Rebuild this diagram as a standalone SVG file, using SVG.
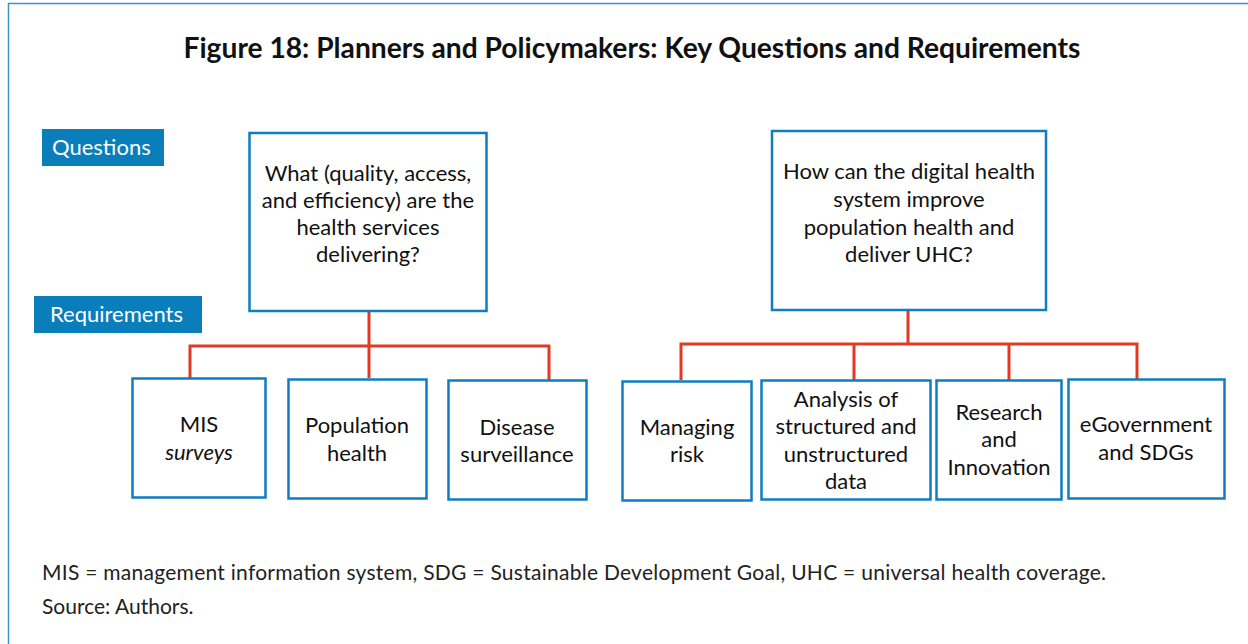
<svg xmlns="http://www.w3.org/2000/svg" width="1248" height="644" viewBox="0 0 1248 644">
<style>
.frame{fill:none;stroke:#3b93c9;stroke-width:1.5}
.box{fill:#ffffff;stroke:#0f7dc0;stroke-width:2.5}
.lbl{fill:#0a7dbb}
.lt{font-family:Lato,"Open Sans",sans-serif;font-size:22px;fill:#ffffff}
.t{font-family:Lato,"Open Sans",sans-serif;font-size:22px;fill:#111111;text-anchor:middle}
.title{font-family:Lato,"Open Sans",sans-serif;font-size:28.2px;font-weight:bold;fill:#111111;text-anchor:middle}
.note{font-family:Lato,"Open Sans",sans-serif;font-size:21px;fill:#222222}
.conn{fill:none;stroke:#e03a22;stroke-width:3}
</style>
<rect width="1248" height="644" fill="#ffffff"/>
<path class="frame" d="M8.5,644 V3.5 H1248"/>
<text class="title" x="632" y="58">Figure 18: Planners and Policymakers: Key Questions and Requirements</text>

<g id="label-questions">
<rect class="lbl" x="42" y="129" width="122" height="37"/>
<text class="lt" x="52" y="155">Questions</text>
</g>
<g id="label-requirements">
<rect class="lbl" x="34" y="296" width="168" height="37"/>
<text class="lt" x="50" y="322">Requirements</text>
</g>

<g id="connectors">
<path class="conn" d="M369,311 V378 M190,378 V346 H549 V380"/>
<path class="conn" d="M908,310 V344 M681,380 V344 H1137 V379 M854,344 V380 M1009,344 V380"/>
</g>

<g id="q1">
<rect class="box" x="249.5" y="133" width="237" height="178"/>
<text class="t" x="368" y="181">What (quality, access,</text>
<text class="t" x="368" y="208">and efficiency) are the</text>
<text class="t" x="368" y="235">health services</text>
<text class="t" x="368" y="262">delivering?</text>
</g>
<g id="q2">
<rect class="box" x="772" y="131" width="274" height="179"/>
<text class="t" x="909" y="179">How can the digital health</text>
<text class="t" x="909" y="207">system improve</text>
<text class="t" x="909" y="235">population health and</text>
<text class="t" x="909" y="262">deliver UHC?</text>
</g>

<g id="r-mis">
<rect class="box" x="132.5" y="378.5" width="133" height="119"/>
<text class="t" x="199" y="432">MIS</text>
<text class="t" x="199" y="460" font-style="italic">surveys</text>
</g>
<g id="r-pop">
<rect class="box" x="288.5" y="379.5" width="138" height="119"/>
<text class="t" x="357" y="433">Population</text>
<text class="t" x="357" y="461">health</text>
</g>
<g id="r-disease">
<rect class="box" x="448.5" y="380.5" width="138" height="119"/>
<text class="t" x="517" y="435">Disease</text>
<text class="t" x="517" y="462">surveillance</text>
</g>
<g id="r-risk">
<rect class="box" x="622.5" y="381.5" width="129" height="119"/>
<text class="t" x="687" y="435">Managing</text>
<text class="t" x="687" y="462">risk</text>
</g>
<g id="r-analysis">
<rect class="box" x="761.5" y="380.5" width="169" height="119"/>
<text class="t" x="846" y="407">Analysis of</text>
<text class="t" x="846" y="434">structured and</text>
<text class="t" x="846" y="462">unstructured</text>
<text class="t" x="846" y="489">data</text>
</g>
<g id="r-research">
<rect class="box" x="936.5" y="380.5" width="125" height="119"/>
<text class="t" x="999" y="420">Research</text>
<text class="t" x="999" y="447">and</text>
<text class="t" x="999" y="475">Innovation</text>
</g>
<g id="r-egov">
<rect class="box" x="1068.5" y="379.5" width="156" height="119"/>
<text class="t" x="1146" y="432">eGovernment</text>
<text class="t" x="1146" y="460">and SDGs</text>
</g>

<text class="note" x="42" y="580" textLength="1064" lengthAdjust="spacing">MIS = management information system, SDG = Sustainable Development Goal, UHC = universal health coverage.</text>
<text class="note" x="42" y="614">Source: Authors.</text>
</svg>
